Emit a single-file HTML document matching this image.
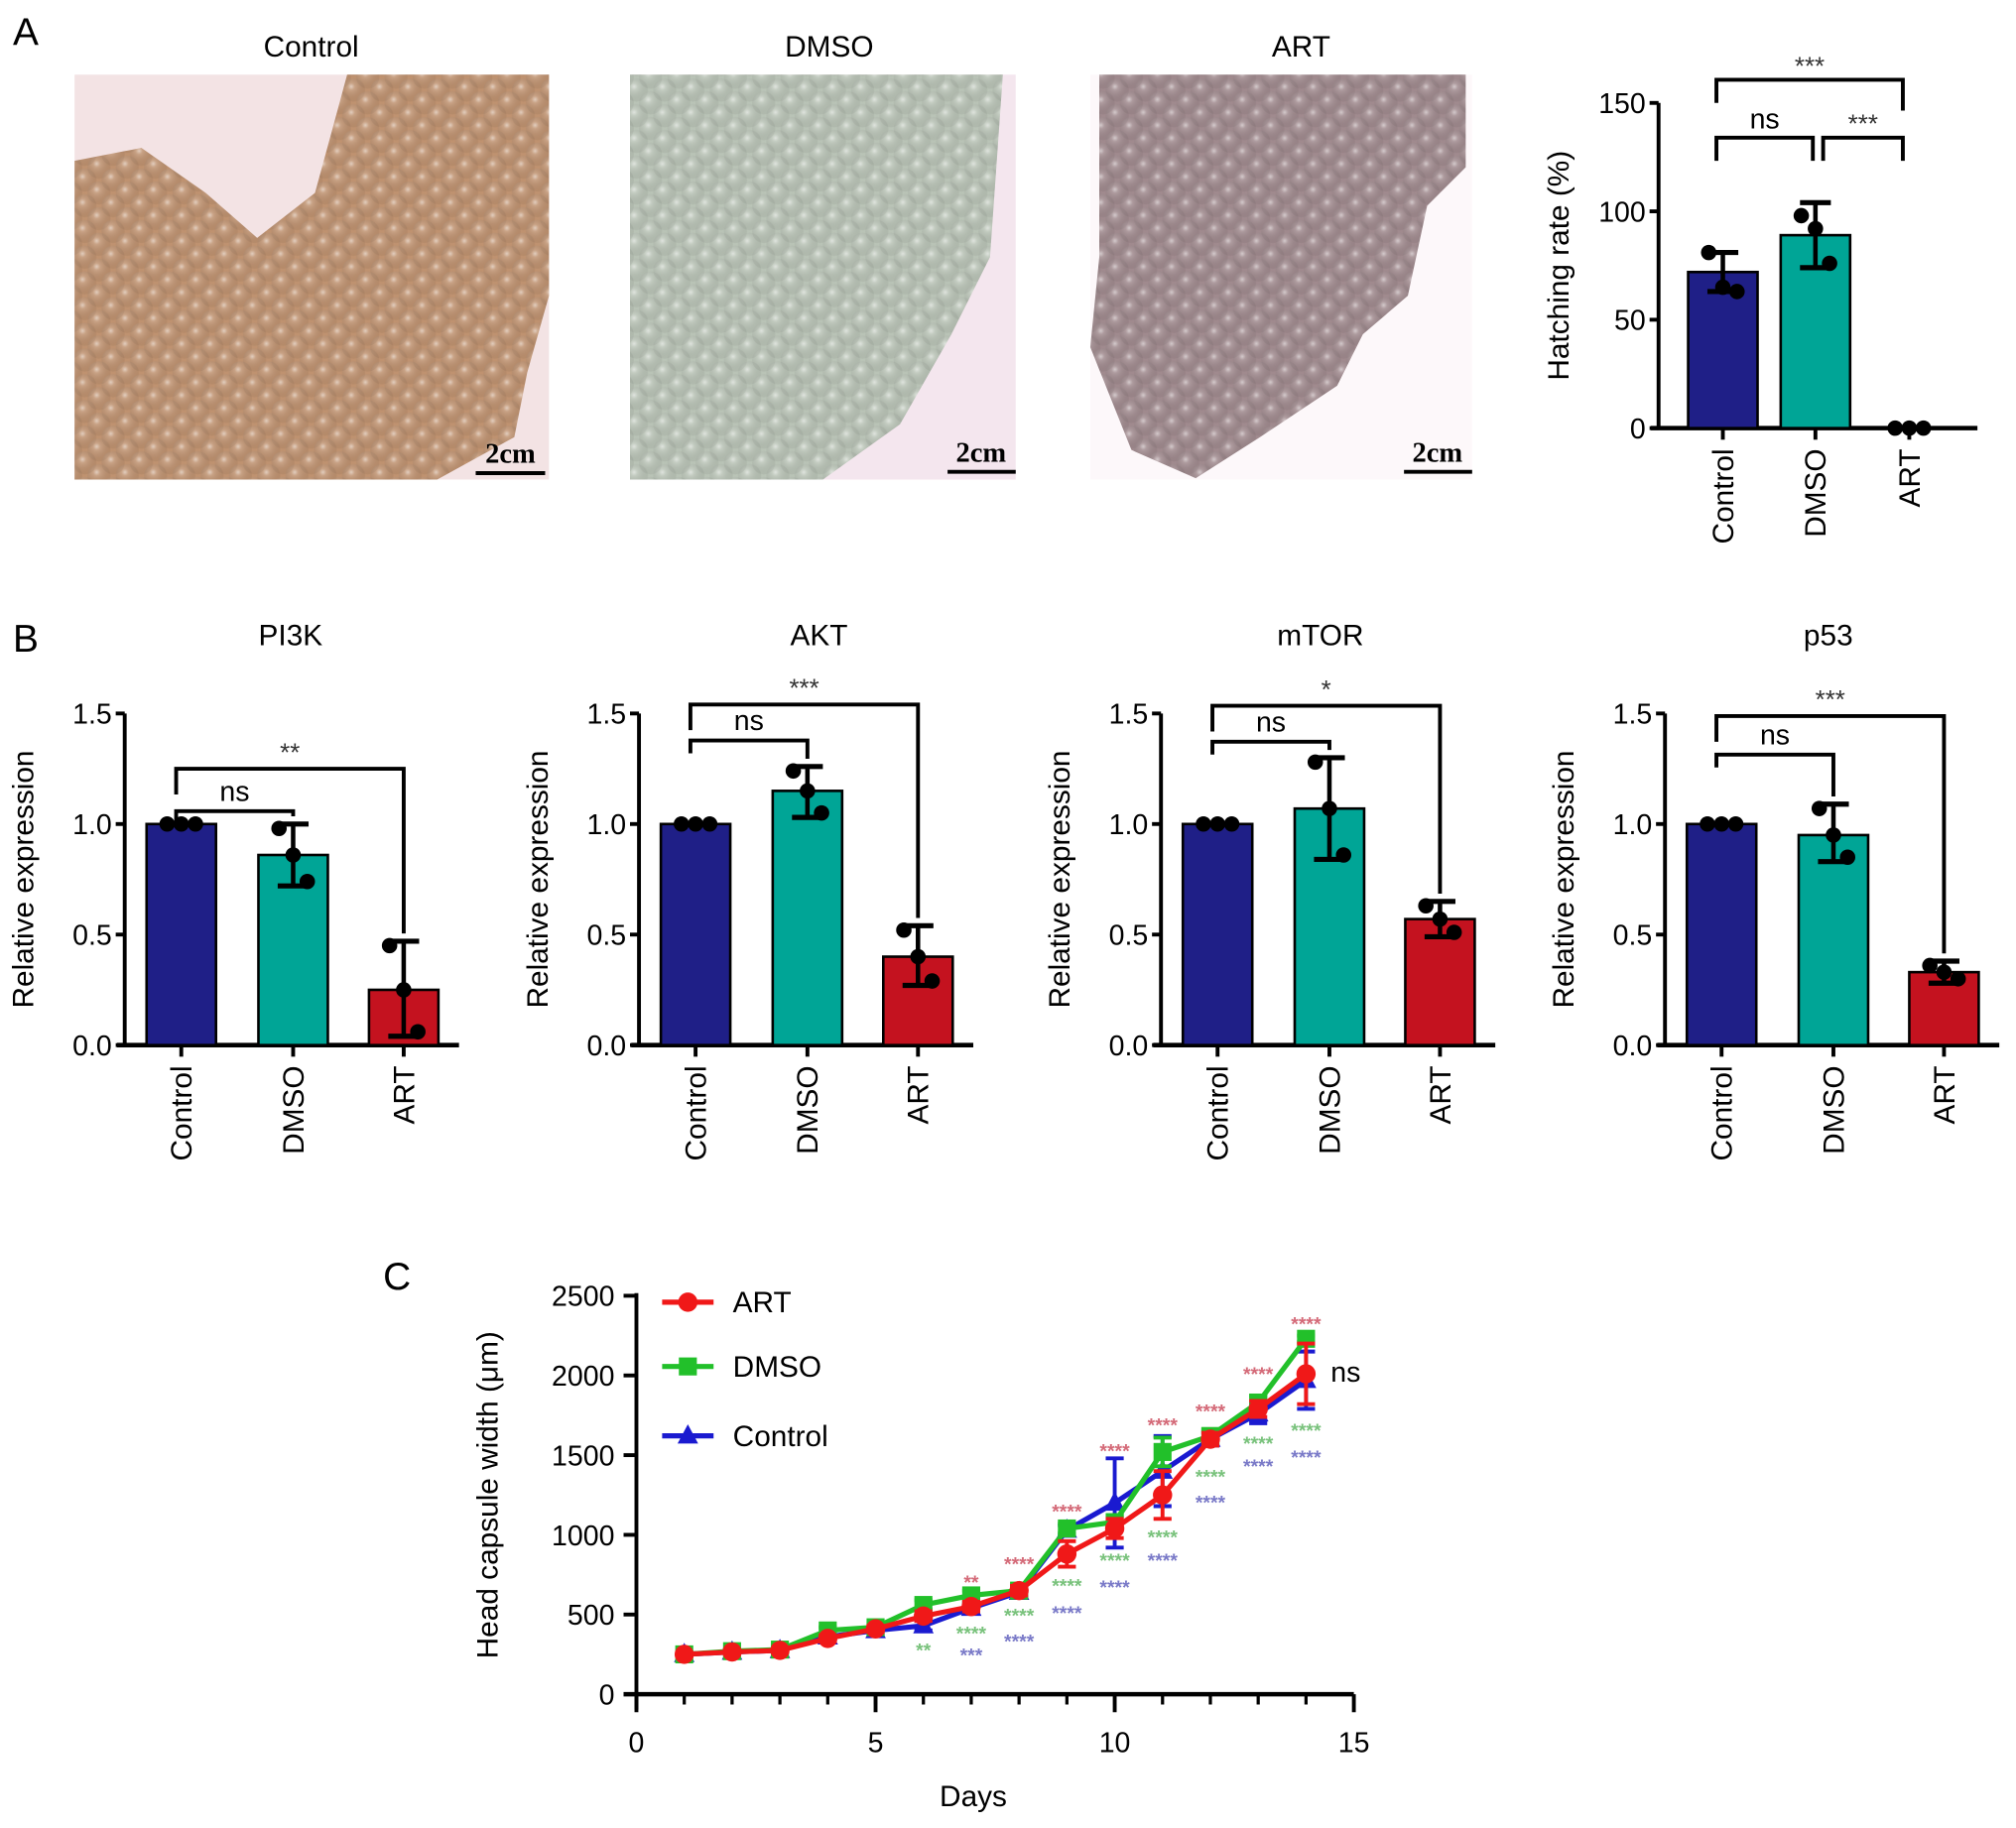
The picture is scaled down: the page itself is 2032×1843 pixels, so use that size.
<!DOCTYPE html>
<html><head><meta charset="utf-8"><style>
html,body{margin:0;padding:0;background:#fff;}
svg{display:block;font-family:"Liberation Sans",Arial,sans-serif;}
</style></head><body>
<svg id="fig" width="2032" height="1843" viewBox="0 0 1568 1422" xmlns="http://www.w3.org/2000/svg">
<defs>
<radialGradient id="egg" cx="0.4" cy="0.35" r="0.6"><stop offset="0" stop-color="#fff" stop-opacity="0.55"/><stop offset="0.25" stop-color="#fff" stop-opacity="0.15"/><stop offset="1" stop-color="#000" stop-opacity="0.05"/></radialGradient>
<pattern id="eggs" width="22" height="20" patternUnits="userSpaceOnUse"><circle cx="11" cy="10" r="9" fill="url(#egg)"/><circle cx="0" cy="0" r="9" fill="url(#egg)"/><circle cx="22" cy="0" r="9" fill="url(#egg)"/><circle cx="0" cy="20" r="9" fill="url(#egg)"/><circle cx="22" cy="20" r="9" fill="url(#egg)"/></pattern>
</defs>
<rect width="1568" height="1422" fill="#fff"/>
<text x="10" y="35" font-size="30">A</text>
<text x="242" y="44" font-size="23" text-anchor="middle">Control</text>
<text x="645" y="44" font-size="23" text-anchor="middle">DMSO</text>
<text x="1012" y="44" font-size="23" text-anchor="middle">ART</text>
<g>
<rect x="58" y="58" width="369" height="315" fill="#f3e3e4"/>
<path d="M58,125 L110,115 L160,150 L200,185 L245,150 L260,95 L270,58 L427,58 L427,230 L410,290 L400,340 L340,373 L58,373 Z" fill="#bf9270"/>
<path d="M58,125 L110,115 L160,150 L200,185 L245,150 L260,95 L270,58 L427,58 L427,230 L410,290 L400,340 L340,373 L58,373 Z" fill="url(#eggs)"/>
<text x="397" y="360" font-size="22" font-family="Liberation Serif" font-weight="bold" text-anchor="middle">2cm</text>
<line x1="370" y1="368" x2="424" y2="368" stroke="#000" stroke-width="3"/>
</g>
<g>
<rect x="490" y="58" width="300" height="315" fill="#f4e6ee"/>
<path d="M490,58 L780,58 L770,200 L740,260 L700,330 L640,373 L490,373 Z" fill="#b9c3b6"/>
<path d="M490,58 L780,58 L770,200 L740,260 L700,330 L640,373 L490,373 Z" fill="url(#eggs)"/>
<text x="763" y="359" font-size="22" font-family="Liberation Serif" font-weight="bold" text-anchor="middle">2cm</text>
<line x1="737" y1="367" x2="790" y2="367" stroke="#000" stroke-width="3"/>
</g>
<g>
<rect x="848" y="58" width="297" height="315" fill="#fdf8fa"/>
<path d="M855,58 L1140,58 L1140,130 L1110,160 L1095,230 L1060,260 L1040,300 L980,340 L930,372 L880,350 L860,300 L848,270 L855,200 Z" fill="#a08a8e"/>
<path d="M855,58 L1140,58 L1140,130 L1110,160 L1095,230 L1060,260 L1040,300 L980,340 L930,372 L880,350 L860,300 L848,270 L855,200 Z" fill="url(#eggs)"/>
<text x="1118" y="359" font-size="22" font-family="Liberation Serif" font-weight="bold" text-anchor="middle">2cm</text>
<line x1="1092" y1="367" x2="1145" y2="367" stroke="#000" stroke-width="3"/>
</g>
<text x="10" y="507" font-size="30">B</text>
<text x="298" y="1003" font-size="30">C</text>
<g id="charts"></g>
</svg>
<script>
// ---- Panel A hatching data ----
const hatchCats = ["Control","DMSO","ART"];
const hatchVals = [72, 89, 0];
const hatchLo = [63, 74, 0];
const hatchHi = [81, 104, 0];
const hatchPts = [[81,65,63],[98,92,76],[0,0,0]];
const hatchTicks = [0,50,100,150];
// ---- Panel B expression data ----
const geneNames = ["PI3K","AKT","mTOR","p53"];
const exprCats = ["Control","DMSO","ART"];
const exprPI3K = [1.0, 0.86, 0.25];
const exprAKT = [1.0, 1.15, 0.40];
const exprMTOR = [1.0, 1.07, 0.57];
const exprP53 = [1.0, 0.95, 0.33];
const errPI3K = [[1.0,1.0],[0.72,1.0],[0.04,0.47]];
const errAKT = [[1.0,1.0],[1.03,1.26],[0.27,0.54]];
const errMTOR = [[1.0,1.0],[0.84,1.30],[0.49,0.65]];
const errP53 = [[1.0,1.0],[0.83,1.09],[0.28,0.38]];
const sigLabels = ["**","***","*","***"];
const exprTicks = [0.0,0.5,1.0,1.5];
// ---- Panel C growth data ----
const days = [1,2,3,4,5,6,7,8,9,10,11,12,13,14];
const artVals = [250,265,275,350,410,490,550,650,880,1040,1250,1600,1790,2010];
const dmsoVals = [250,270,280,400,420,560,620,650,1040,1080,1520,1620,1830,2230];
const ctrlVals = [250,265,275,360,400,430,540,640,1030,1200,1400,1600,1760,1970];
const artErr = [10,10,10,20,20,30,30,30,80,60,150,40,50,190];
const dmsoErr = [10,10,10,20,20,30,30,30,30,40,90,40,40,20];
const ctrlErr = [10,10,10,20,20,30,30,30,30,280,220,40,60,180];
const xTicksC = [0,5,10,15];
const yTicksC = [0,500,1000,1500,2000,2500];

const NS="http://www.w3.org/2000/svg";
const root=document.getElementById('charts');
function mk(tag,attrs,parent,txt){const e=document.createElementNS(NS,tag);for(const k in attrs)e.setAttribute(k,attrs[k]);if(txt!==undefined)e.textContent=txt;(parent||root).appendChild(e);return e;}
const colors=["#1f1f87","#00a596","#c4121f"];

function bracket(g,x1,x2,y,d1,d2,label,ly){
  const p=mk('path',{d:`M${x1},${y+d1} L${x1},${y} L${x2},${y} L${x2},${y+d2}`,fill:'none',stroke:'#000','stroke-width':3},g);
  
  
  const t=mk('text',{x:(x1+x2)/2,y:ly,'font-size':label==='ns'?22:20,'text-anchor':'middle',fill:label==='ns'?'#000':'#333'},g,label);
  
  
}

function barChart(o){
  const g=mk('g',{});
  
  
  const y=v=>o.y0-(v-o.min)/(o.max-o.min)*(o.y0-o.yTop);
  mk('line',{x1:o.ax,y1:o.yTop,x2:o.ax,y2:o.y0+1,stroke:'#000','stroke-width':3},g);
  mk('line',{x1:o.ax-6,y1:o.y0,x2:o.xEnd,y2:o.y0,stroke:'#000','stroke-width':3.5},g);
  o.ticks.forEach(v=>{
    mk('line',{x1:o.ax-7,y1:y(v),x2:o.ax,y2:y(v),stroke:'#000','stroke-width':3},g);
    const t=mk('text',{x:o.ax-10,y:y(v)+8,'font-size':22,'text-anchor':'end'},g,o.fmt(v));
    
    
  });
  const yt=mk('text',{x:0,y:0,'font-size':23,'text-anchor':'middle',transform:`translate(${o.ytx},${(o.y0+o.yTop)/2}) rotate(-90)`},g,o.ytitle);
  
  
  o.vals.forEach((v,i)=>{
    const cx=o.cx[i];
    if(v>0){
      const r=mk('rect',{x:cx-27,y:y(v),width:54,height:o.y0-y(v),fill:colors[i],stroke:'#000','stroke-width':2},g);
      
      
    }
    mk('line',{x1:cx,y1:o.y0,x2:cx,y2:o.y0+9,stroke:'#000','stroke-width':3},g);
    const lo=o.err[i][0],hi=o.err[i][1];
    if(hi>lo){
      mk('line',{x1:cx,y1:y(lo),x2:cx,y2:y(hi),stroke:'#000','stroke-width':3.5},g);
      mk('line',{x1:cx-12,y1:y(hi),x2:cx+12,y2:y(hi),stroke:'#000','stroke-width':4},g);
      mk('line',{x1:cx-12,y1:y(lo),x2:cx+12,y2:y(lo),stroke:'#000','stroke-width':4},g);
    }
    o.pts[i].forEach((p,j)=>{
      const c=mk('circle',{cx:cx+(j-1)*11,cy:y(p),r:6,fill:'#000'},g);
      
      
    });
    const xl=mk('text',{x:0,y:0,'font-size':23,'text-anchor':'end',transform:`translate(${cx+8},${o.y0+16}) rotate(-90)`},g,o.cats[i]);
    
    
  });
  if(o.title){
    const tt=mk('text',{x:o.titleX,y:o.titleY,'font-size':23,'text-anchor':'middle'},g,o.title);
    
    
  }
  return {g,y};
}

(function(){
  const cx=[1340,1412,1485];
  const r=barChart({name:'hatching-rate-chart',ax:1290,y0:333,yTop:80,min:0,max:150,xEnd:1538,ticks:hatchTicks,fmt:v=>String(v),ytitle:'Hatching rate (%)',ytx:1220,vals:hatchVals,cats:hatchCats,cx,err:hatchVals.map((v,i)=>[hatchLo[i],hatchHi[i]]),pts:hatchPts});
  bracket(r.g,1335,1480,62,18,24,'***',58);
  bracket(r.g,1335,1410,107,18,18,'ns',100);
  bracket(r.g,1418,1480,107,18,18,'***',103);
})();

const exprSets=[exprPI3K,exprAKT,exprMTOR,exprP53];
const errSets=[errPI3K,errAKT,errMTOR,errP53];
const axXs=[97,497,903,1295];
const titleXs=[226,637,1027,1422];
const bigBr=[598,548,549,557];
const nsBr=[631,576,577,587];
exprSets.forEach((vals,k)=>{
  const ax=axXs[k];
  const cx=[ax+44,ax+131,ax+217];
  const pts=vals.map((v,i)=>{const e=errSets[k][i];return i===0?[1,1,1]:[e[1]-0.02,v,e[0]+0.02];});
  const r=barChart({name:'expression-chart-'+geneNames[k].toLowerCase(),ax,y0:813,yTop:555,min:0,max:1.5,xEnd:ax+260,ticks:exprTicks,fmt:v=>v.toFixed(1),ytitle:'Relative expression',ytx:ax-71,vals,cats:exprCats,cx,err:errSets[k],pts,title:geneNames[k],titleX:titleXs[k],titleY:502});
  bracket(r.g,cx[0]-4,cx[2],bigBr[k],20,r.y(errSets[k][2][1])-bigBr[k]-6,sigLabels[k],bigBr[k]-6);
  bracket(r.g,cx[0]-4,cx[1],nsBr[k],10,r.y(Math.max(errSets[k][1][1],1.0))-nsBr[k]-6,'ns',nsBr[k]-8);
});

(function(){
  const g=mk('g',{});
  
  
  const X=d=>495+d*(1053-495)/15;
  const Y=v=>1318-v*(1318-1008)/2500;
  mk('line',{x1:495,y1:1006,x2:495,y2:1330,stroke:'#000','stroke-width':3},g);
  mk('line',{x1:485,y1:1318,x2:1053,y2:1318,stroke:'#000','stroke-width':3.5},g);
  yTicksC.forEach(v=>{
    mk('line',{x1:485,y1:Y(v),x2:495,y2:Y(v),stroke:'#000','stroke-width':3},g);
    const t=mk('text',{x:478,y:Y(v)+8,'font-size':22,'text-anchor':'end'},g,String(v));
    
    
  });
  days.forEach(d=>mk('line',{x1:X(d),y1:1318,x2:X(d),y2:1326,stroke:'#000','stroke-width':2.5},g));
  xTicksC.forEach(v=>{
    mk('line',{x1:X(v),y1:1318,x2:X(v),y2:1332,stroke:'#000','stroke-width':3},g);
    const t=mk('text',{x:X(v),y:1363,'font-size':22,'text-anchor':'middle'},g,String(v));
    
    
  });
  const xt=mk('text',{x:757,y:1405,'font-size':23,'text-anchor':'middle'},g,'Days');
  
  
  const yt=mk('text',{x:0,y:0,'font-size':23,'text-anchor':'middle',transform:'translate(387,1163) rotate(-90)'},g,'Head capsule width (μm)');
  
  
  const series=[
    {name:'control',vals:ctrlVals,err:ctrlErr,col:'#1a1ad0',m:'tri'},
    {name:'dmso',vals:dmsoVals,err:dmsoErr,col:'#22c02a',m:'sq'},
    {name:'art',vals:artVals,err:artErr,col:'#f01818',m:'circ'}];
  function marker(m,x,y,col,parent){
    let e;
    if(m==='circ')e=mk('circle',{cx:x,cy:y,r:7.5,fill:col},parent);
    else if(m==='sq')e=mk('rect',{x:x-7,y:y-7,width:14,height:14,fill:col},parent);
    else e=mk('path',{d:`M${x},${y-9} L${x+8},${y+6} L${x-8},${y+6} Z`,fill:col},parent);
    return e;
  }
  series.forEach(s=>{
    const sg=mk('g',{},g);
    
    
    s.vals.forEach((v,i)=>{
      const x=X(days[i]);
      mk('line',{x1:x,y1:Y(v-s.err[i]),x2:x,y2:Y(v+s.err[i]),stroke:s.col,'stroke-width':3},sg);
      mk('line',{x1:x-7,y1:Y(v-s.err[i]),x2:x+7,y2:Y(v-s.err[i]),stroke:s.col,'stroke-width':3},sg);
      mk('line',{x1:x-7,y1:Y(v+s.err[i]),x2:x+7,y2:Y(v+s.err[i]),stroke:s.col,'stroke-width':3},sg);
    });
    const pl=mk('polyline',{points:s.vals.map((v,i)=>X(days[i])+','+Y(v)).join(' '),fill:'none',stroke:s.col,'stroke-width':4},sg);
    
    
    s.vals.forEach((v,i)=>{
      const mm=marker(s.m,X(days[i]),Y(v),s.col,sg);
      
      
    });
  });
  const leg=[['ART','#f01818','circ',1013],['DMSO','#22c02a','sq',1063],['Control','#1a1ad0','tri',1117]];
  leg.forEach(l=>{
    const lg=mk('g',{},g);
    
    
    mk('line',{x1:515,y1:l[3],x2:555,y2:l[3],stroke:l[1],'stroke-width':4},lg);
    marker(l[2],535,l[3],l[1],lg);
    mk('text',{x:570,y:l[3]+8,'font-size':23},lg,l[0]);
  });
  const ns=mk('text',{x:1035,y:1075,'font-size':22},g,'ns');
  
  
  const starRed=[[7,1230,'**'],[8,1216,'****'],[9,1175,'****'],[10,1128,'****'],[11,1108,'****'],[12,1097,'****'],[13,1068,'****'],[14,1029,'****']];
  const starGreen=[[6,1283,'**'],[7,1270,'****'],[8,1256,'****'],[9,1233,'****'],[10,1213,'****'],[11,1195,'****'],[12,1148,'****'],[13,1122,'****'],[14,1112,'****']];
  const starBlue=[[7,1287,'***'],[8,1276,'****'],[9,1254,'****'],[10,1234,'****'],[11,1213,'****'],[12,1168,'****'],[13,1140,'****'],[14,1133,'****']];
  [[starRed,'#d46a78'],[starGreen,'#79c27c'],[starBlue,'#7a7ac8']].forEach(([arr,col])=>{
    arr.forEach(s=>{
      const t=mk('text',{x:X(s[0]),y:s[1]+6,'font-size':15,'text-anchor':'middle',fill:col,'font-weight':'bold'},g,s[2]);
      
      
    });
  });
})();
</script>
</body></html>
